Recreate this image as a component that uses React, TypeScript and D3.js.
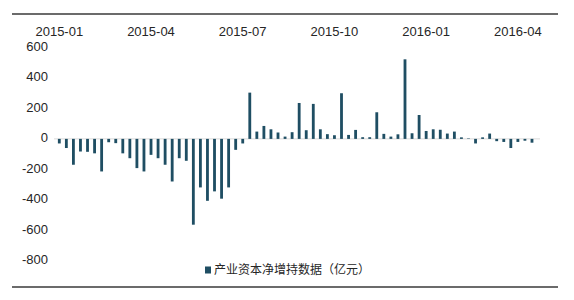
import React from "react";
import * as d3 from "d3";

const values: number[] = [
  -30, -60, -170, -83, -85, -95, -214, -22, -28, -95, -127, -192, -214,
  -105, -127, -170, -280, -127, -144, -564, -319, -407, -345, -393, -319, -72,
  -30, 304, 48, 85, 63, 42, 15, 44, 236, 57, 230, 63, 31,
  24, 300, 26, 59, 11, 11, 175, 33, 15, 30, 523, 37, 157,
  52, 63, 60, 35, 48, 10, 3, -30, 10, 35, -15, -20, -60,
  -20, -12, -25,
];

const tickLabels: string[] = ["2015-01", "2015-04", "2015-07", "2015-10", "2016-01", "2016-04"];
const tickIndex: number[] = [0, 13, 26, 39, 52, 65];
const yTicks: number[] = [600, 400, 200, 0, -200, -400, -600, -800];
const legendLabel = "产业资本净增持数据（亿元）";

const W = 574;
const H = 300;
const barColor = "#1f4e63";
const textColor = "#262626";
const latin = "'Liberation Sans', Arial, sans-serif";

export default function App() {
  const step = 7.055;
  const x0 = 59.3 - step / 2;
  const x = d3
    .scaleBand<number>()
    .domain(d3.range(values.length))
    .range([x0, x0 + step * values.length])
    .paddingInner(0.6)
    .paddingOuter(0.3);
  const y = d3.scaleLinear().domain([-800, 600]).range([260.6, 47.6]);
  const bw = x.bandwidth();

  return (
    <svg
      width={W}
      height={H}
      style={{ position: "absolute", left: 0, top: 0, background: "#fff" }}
    >
      <rect x={0} y={0} width={W} height={H} fill="#fff" />
      <line x1={12} x2={558} y1={14} y2={14} stroke="#3a3a3a" strokeWidth={1.5} />
      <line x1={12} x2={558} y1={287} y2={287} stroke="#3a3a3a" strokeWidth={1.5} />
      {tickLabels.map((t, i) => (
        <text
          key={t}
          x={(x(tickIndex[i]) ?? 0) + bw / 2}
          y={33}
          textAnchor="middle"
          dominantBaseline="middle"
          fontFamily={latin}
          fontSize={13}
          fill={textColor}
        >
          {t}
        </text>
      ))}
      {yTicks.map((v) => (
        <text
          key={v}
          x={48}
          y={y(v)}
          textAnchor="end"
          dominantBaseline="middle"
          fontFamily={latin}
          fontSize={13}
          fill={textColor}
        >
          {v}
        </text>
      ))}
      <line x1={54} x2={540} y1={y(0)} y2={y(0)} stroke="#d9d9d9" strokeWidth={1} />
      {values.map((v, i) => (
        <rect
          key={i}
          x={x(i)}
          y={Math.min(y(v), y(0))}
          width={bw}
          height={Math.abs(y(v) - y(0))}
          fill={barColor}
        />
      ))}
      <rect x={205} y={266.5} width={6} height={7} fill={barColor} />
      <text
        x={214}
        y={271}
        dominantBaseline="middle"
        fontFamily="'Noto Sans CJK SC', sans-serif"
        fontSize={12}
        fill={textColor}
      >
        {legendLabel}
      </text>
    </svg>
  );
}
